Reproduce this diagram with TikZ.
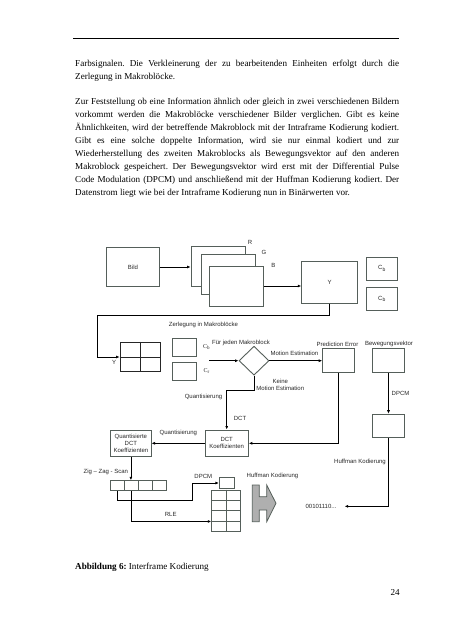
\documentclass[tikz,border=0pt]{standalone}
\usepackage{fontspec}
\setmainfont{Liberation Serif}
\newfontfamily\dfont{Liberation Sans}
\usetikzlibrary{arrows.meta,shapes.geometric,calc}
\definecolor{boxline}{RGB}{85,95,90}
\definecolor{dtext}{RGB}{40,40,40}
\definecolor{arrfill}{RGB}{175,175,175}
\frenchspacing
\begin{document}
\begin{tikzpicture}[x=1pt,y=-1pt,
  box/.style={draw=boxline,line width=0.9pt,inner sep=0pt,font=\dfont\fontsize{6}{7}\selectfont,text=dtext,align=center},
  gridbox/.style={draw=black!85,line width=0.8pt,inner sep=0pt},
  lbl/.style={inner sep=0pt,font=\dfont\fontsize{6}{7}\selectfont,text=dtext,align=center},
  conn/.style={draw=black,line width=0.7pt},
  arr/.style={conn,-{Latex[length=3.5pt,width=3pt]}},
  txt/.style={anchor=base west,inner sep=0pt,font=\fontsize{9.12}{11}\selectfont},
]
\useasboundingbox[fill=white] (0,0) rectangle (452,640);

% header rule
\coordinate (hl) at (73,38);
\coordinate (hr) at (399,38);
\draw[line width=0.9pt] (hl) -- (hr);

% body text
\node[txt] (t1) at (75,66) {\makebox[324pt][s]{Farbsignalen. Die Verkleinerung der zu bearbeitenden Einheiten erfolgt durch die}};
\node[txt] (t2) at (75,79.1) {Zerlegung in Makroblöcke.};
\node[txt] (t3) at (75,104) {\makebox[324pt][s]{Zur Feststellung ob eine Information ähnlich oder gleich in zwei verschiedenen Bildern}};
\node[txt] (t4) at (75,117.1) {\makebox[324pt][s]{vorkommt werden die Makroblöcke verschiedener Bilder verglichen. Gibt es keine}};
\node[txt] (t5) at (75,130.2) {\makebox[324pt][s]{Ähnlichkeiten, wird der betreffende Makroblock mit der Intraframe Kodierung kodiert.}};
\node[txt] (t6) at (75,143.3) {\makebox[324pt][s]{Gibt es eine solche doppelte Information, wird sie nur einmal kodiert und zur}};
\node[txt] (t7) at (75,156.4) {\makebox[324pt][s]{Wiederherstellung des zweiten Makroblocks als Bewegungsvektor auf den anderen}};
\node[txt] (t8) at (75,169.5) {\makebox[324pt][s]{Makroblock gespeichert. Der Bewegungsvektor wird erst mit der Differential Pulse}};
\node[txt] (t9) at (75,182.6) {\makebox[324pt][s]{Code Modulation (DPCM) und anschließend mit der Huffman Kodierung kodiert. Der}};
\node[txt] (t10) at (75,195.7) {Datenstrom liegt wie bei der Intraframe Kodierung nun in Binärwerten vor.};

% ---- diagram: top row
\node[box,minimum width=52.6pt,minimum height=39.4pt] (bild) at (133,267) {Bild};
\node[box,fill=white,minimum width=54pt,minimum height=40pt] (rbox) at (218,266) {};
\node[box,fill=white,minimum width=54pt,minimum height=40pt] (gbox) at (228.7,274) {};
\node[box,fill=white,minimum width=54pt,minimum height=40pt] (bbox) at (236.3,286) {};
\node[lbl] (rl) at (250,242.7) {R};
\node[lbl] (gl) at (264,252.7) {G};
\node[lbl] (bl) at (273.3,265.3) {B};
\node[box,minimum width=55.6pt,minimum height=41.6pt] (ybox) at (329.5,282.5) {Y};
\node[box,minimum width=30.6pt,minimum height=23pt] (cb1) at (382,268.5) {C\textsubscript{b}};
\node[box,minimum width=30.6pt,minimum height=23pt] (cb2) at (382,299) {C\textsubscript{b}};
\draw[arr] (bild.east) -- (bild.east -| rbox.west);
\draw[arr] (bbox.east) -- (bbox.east -| ybox.west);

% ---- macroblocks
\node[gridbox,minimum width=40.7pt,minimum height=29.4pt] (mb) at (140.3,357) {};
\draw[draw=black!85,line width=0.8pt] (mb.north) -- (mb.south) (mb.west) -- (mb.east);
\coordinate (yb1) at (329.5,315);
\coordinate (yb2) at (97.5,315);
\draw[arr] (ybox.south) -- (yb1) -- (yb2) |- (mb.west);
\node[lbl] (zerl) at (203.5,324.5) {Zerlegung in Makroblöcke};
\node[lbl] (yl) at (114,362.5) {Y};
\node[box,minimum width=24pt,minimum height=17.7pt] (cbs) at (184.7,347.2) {};
\node[box,minimum width=24pt,minimum height=17.7pt] (crs) at (184.7,371.2) {};
\node[lbl,font=\rmfamily\fontsize{6}{7}\selectfont] (cbl) at (206.7,347.3) {C\textsubscript{b}};
\node[lbl,font=\rmfamily\fontsize{6}{7}\selectfont] (crl) at (206.7,371) {C\textsubscript{r}};

% ---- decision
\node[draw=boxline,line width=0.9pt,diamond,minimum width=30pt,minimum height=29pt,inner sep=0pt] (dia) at (254,360.7) {};
\coordinate (din) at (209.3,360.7);
\draw[arr] (din) -- (dia.west);
\node[lbl] (fjm) at (241,343.3) {Für jeden Makroblock};
\node[box,minimum width=31.7pt,minimum height=24pt] (pe) at (338.5,360.5) {};
\node[box,minimum width=31.7pt,minimum height=24pt] (bv) at (388.5,360.5) {};
\node[lbl] (pel) at (337.5,344.3) {Prediction Error};
\node[lbl] (bvl) at (389,344.3) {Bewegungsvektor};
\draw[arr] (dia.east) -- (dia.east -| pe.west);
\node[lbl] (me) at (294.5,353.3) {Motion Estimation};
\node[box,minimum width=31.7pt,minimum height=23.7pt] (bv2) at (388.5,426) {};
\draw[arr] (bv.south) -- (bv2.north);
\node[lbl] (dpcm1) at (400.5,393.3) {DPCM};

% ---- DCT
\node[box,minimum width=43.3pt,minimum height=26.7pt] (dct) at (226.7,443.3) {DCT\\Koeffizienten};
\coordinate (k1) at (254,390.5);
\coordinate (k2) at (226.7,390.5);
\draw[arr] (dia.south) -- (k1) -- (k2) -- (dct.north);
\node[lbl] (keine) at (280.3,385) {Keine\\Motion Estimation};
\node[lbl] (q1) at (203.5,396.5) {Quantisierung};
\node[lbl] (dctl) at (240,418.5) {DCT};
\draw[arr] (pe.south) |- (dct.east);
\node[box,minimum width=40.3pt,minimum height=26.7pt] (qdct) at (130.9,443.3) {Quantisierte\\DCT\\Koeffizienten};
\draw[arr] (dct.west) -- (qdct.east);
\node[lbl] (q2) at (178.3,433.3) {Quantisierung};

% ---- zigzag row
\node[box,minimum width=14pt,minimum height=10.2pt] (c1) at (117.7,485.8) {};
\node[box,minimum width=14pt,minimum height=10.2pt] (c2) at (131.7,485.8) {};
\node[box,minimum width=14pt,minimum height=10.2pt] (c3) at (145.7,485.8) {};
\node[box,minimum width=14pt,minimum height=10.2pt] (c4) at (159.7,485.8) {};
\draw[arr] (qdct.south) -- (qdct.south |- c2.north);
\node[lbl] (zz) at (105.8,471.7) {Zig – Zag - Scan};
\node[box,minimum width=14.7pt,minimum height=11.2pt] (sbox) at (226.7,483) {};
\coordinate (d1) at (117.7,500);
\coordinate (d2) at (192.2,500);
\draw[arr] (c1.south) -- (d1) -- (d2) |- (sbox.west);
\node[lbl] (dpcm2) at (203.3,476) {DPCM};
\node[box,minimum width=29pt,minimum height=41.7pt] (tbl) at (226.2,510.8) {};
\draw[draw=boxline,line width=0.9pt] (tbl.north) -- (tbl.south)
  ($(tbl.north west)!0.25!(tbl.south west)$) -- ($(tbl.north east)!0.25!(tbl.south east)$)
  ($(tbl.north west)!0.5!(tbl.south west)$) -- ($(tbl.north east)!0.5!(tbl.south east)$)
  ($(tbl.north west)!0.75!(tbl.south west)$) -- ($(tbl.north east)!0.75!(tbl.south east)$);
\draw[arr] (c2.south) |- ($(tbl.north west)!0.75!(tbl.south west)$);
\node[lbl] (rle) at (170.7,514.3) {RLE};

% ---- Huffman
\node[lbl] (huf1) at (272.5,476) {Huffman Kodierung};
\draw[draw=boxline,fill=arrfill,line width=0.8pt] (252.3,485) -- (259.3,485) -- (259.3,496.7) -- (266.7,496.7) -- (266.7,485) -- (276,503.3) -- (266.7,521.7) -- (266.7,510) -- (259.3,510) -- (259.3,521.7) -- (252.3,521.7) -- cycle;
\node[lbl] (bits) at (321,506.3) {00101110...};
\draw[arr] (bv2.south) |- ([xshift=8pt]bits.east);
\node[lbl] (huf2) at (360,461.7) {Huffman Kodierung};

% caption and page number
\node[txt] (cap) at (75,569) {\textbf{Abbildung 6:} Interframe Kodierung};
\node[anchor=base east,inner sep=0pt,font=\fontsize{9.12}{11}\selectfont] (pnum) at (400,595) {24};
\end{tikzpicture}
\end{document}
